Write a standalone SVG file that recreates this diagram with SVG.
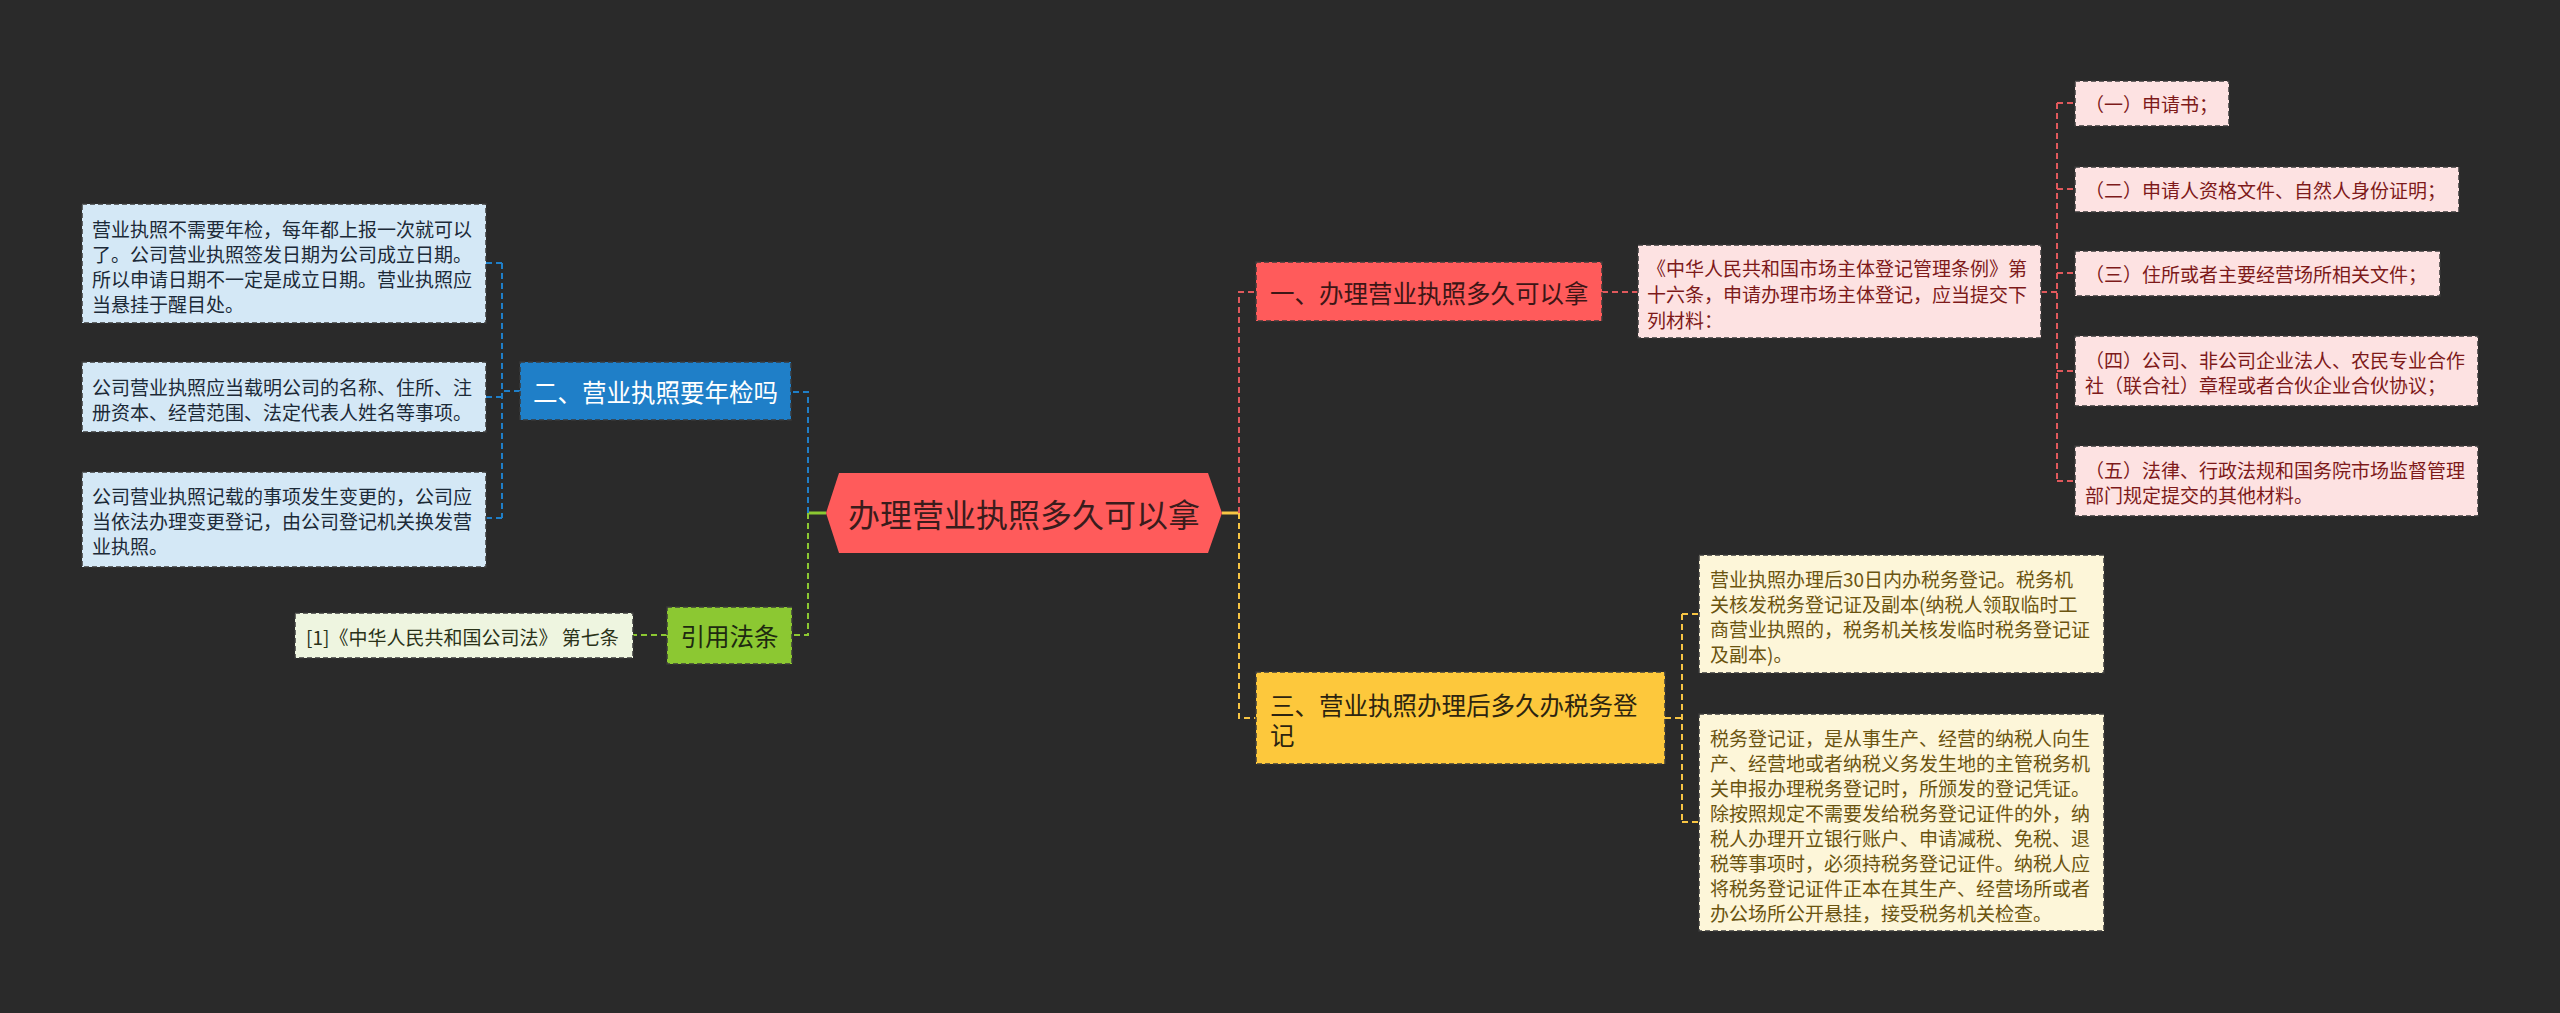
<svg xmlns="http://www.w3.org/2000/svg" width="2560" height="1013" viewBox="0 0 2560 1013">
<style>
text{font-family:"Noto Sans CJK SC","Noto Sans",sans-serif;dominant-baseline:central}
.box{stroke:#3a3a3a;stroke-width:1.5;stroke-dasharray:5 3}
.lead{stroke-dasharray:6 4}
.con{fill:none;stroke-width:2;stroke-dasharray:6 4}
.solid{fill:none;stroke-width:3}
.t19{font-size:19px}
.t24{font-size:24.5px}
</style>
<rect x="0" y="0" width="2560" height="1013" fill="#2a2a2a"/>
<g id="connectors">
  <path class="solid" d="M826 513H808" stroke="#8cc832"/>
  <path class="solid" d="M1222 513H1239" stroke="#f7c544"/>
  <path class="con" d="M808 513V392H791" stroke="#1f7fc8"/>
  <path class="con" d="M808 513V635H792" stroke="#8cc832"/>
  <path class="con" d="M1239 513V292H1256" stroke="#e0595c"/>
  <path class="con" d="M1239 513V718H1256" stroke="#f7c544"/>
  <path class="con" d="M520 391H502M502 263V518M502 263H486M502 397H486M502 518H486" stroke="#1f7fc8"/>
  <path class="con" d="M667 635H633" stroke="#8cc832"/>
  <path class="con" d="M1602 292H1638M2041 292H2057M2057 103V481M2057 103H2075M2057 189H2075M2057 273H2075M2057 371H2075M2057 481H2075" stroke="#e0595c"/>
  <path class="con" d="M1665 718H1682M1682 614V822M1682 614H1699M1682 822H1699" stroke="#f7c544"/>
</g>
<g id="root">
  <polygon points="826,513 839,473 1208,473 1222,513 1208,553 839,553" fill="#ff5b5b"/>
  <text x="1024" y="513" font-size="32" text-anchor="middle" fill="#3a1c1c">办理营业执照多久可以拿</text>
</g>
<g id="n1">
  <rect class="box" x="1256" y="262" width="346" height="59" fill="#ff5b5b" stroke="#a83a3a"/>
  <text class="t24" x="1270" y="292" fill="#3d1616">一、办理营业执照多久可以拿</text>
</g>
<g id="n1d">
  <rect class="box" x="1638" y="245" width="403" height="93" fill="#fde2e2"/>
  <text class="t19" fill="#7d1a1a"><tspan x="1647" y="267">《中华人民共和国市场主体登记管理条例》第</tspan><tspan x="1647" y="293">十六条，申请办理市场主体登记，应当提交下</tspan><tspan x="1647" y="319">列材料：</tspan></text>
</g>
<g id="n1a">
  <rect class="box" x="2075" y="81" width="154" height="45" fill="#fde2e2"/>
  <text class="t19" x="2085" y="103" fill="#7d1a1a">（一）申请书；</text>
</g>
<g id="n1b">
  <rect class="box" x="2075" y="167" width="384" height="45" fill="#fde2e2"/>
  <text class="t19" x="2085" y="189" fill="#7d1a1a">（二）申请人资格文件、自然人身份证明；</text>
</g>
<g id="n1c">
  <rect class="box" x="2075" y="251" width="365" height="45" fill="#fde2e2"/>
  <text class="t19" x="2085" y="273" fill="#7d1a1a">（三）住所或者主要经营场所相关文件；</text>
</g>
<g id="n1e">
  <rect class="box" x="2075" y="336" width="403" height="70" fill="#fde2e2"/>
  <text class="t19" fill="#7d1a1a"><tspan x="2085" y="359">（四）公司、非公司企业法人、农民专业合作</tspan><tspan x="2085" y="384">社（联合社）章程或者合伙企业合伙协议；</tspan></text>
</g>
<g id="n1f">
  <rect class="box" x="2075" y="446" width="403" height="70" fill="#fde2e2"/>
  <text class="t19" fill="#7d1a1a"><tspan x="2085" y="469">（五）法律、行政法规和国务院市场监督管理</tspan><tspan x="2085" y="494">部门规定提交的其他材料。</tspan></text>
</g>
<g id="n2">
  <rect class="box" x="520" y="362" width="271" height="58" fill="#1f7fc8" stroke="#135a90"/>
  <text class="t24" x="655.5" y="391" text-anchor="middle" fill="#ffffff">二、营业执照要年检吗</text>
</g>
<g id="n2a">
  <rect class="box" x="82" y="204" width="404" height="119" fill="#d4e8f6"/>
  <text class="t19" fill="#1c2a38"><tspan x="92" y="228">营业执照不需要年检，每年都上报一次就可以</tspan><tspan x="92" y="253">了。公司营业执照签发日期为公司成立日期。</tspan><tspan x="92" y="278">所以申请日期不一定是成立日期。营业执照应</tspan><tspan x="92" y="303">当悬挂于醒目处。</tspan></text>
</g>
<g id="n2b">
  <rect class="box" x="82" y="362" width="404" height="70" fill="#d4e8f6"/>
  <text class="t19" fill="#1c2a38"><tspan x="92" y="386">公司营业执照应当载明公司的名称、住所、注</tspan><tspan x="92" y="411">册资本、经营范围、法定代表人姓名等事项。</tspan></text>
</g>
<g id="n2c">
  <rect class="box" x="82" y="472" width="404" height="95" fill="#d4e8f6"/>
  <text class="t19" fill="#1c2a38"><tspan x="92" y="495">公司营业执照记载的事项发生变更的，公司应</tspan><tspan x="92" y="520">当依法办理变更登记，由公司登记机关换发营</tspan><tspan x="92" y="545">业执照。</tspan></text>
</g>
<g id="n4">
  <rect class="box" x="667" y="607" width="125" height="57" fill="#8cc832" stroke="#5a8a1e"/>
  <text class="t24" x="729.5" y="635" text-anchor="middle" fill="#1e2a10">引用法条</text>
</g>
<g id="n4a">
  <rect class="box" x="295" y="613" width="338" height="45" fill="#eef5e0"/>
  <text class="t19" x="306" y="636" fill="#2a3218" xml:space="preserve">[1]《中华人民共和国公司法》 第七条</text>
</g>
<g id="n3">
  <rect class="box" x="1256" y="672" width="409" height="92" fill="#fdc83c" stroke="#a88520"/>
  <text class="t24" fill="#2c2410"><tspan x="1270" y="704">三、营业执照办理后多久办税务登</tspan><tspan x="1270" y="734">记</tspan></text>
</g>
<g id="n3a">
  <rect class="box" x="1699" y="555" width="405" height="118" fill="#fdf6d9"/>
  <text class="t19" fill="#6b5410"><tspan x="1710" y="578">营业执照办理后30日内办税务登记。税务机</tspan><tspan x="1710" y="603">关核发税务登记证及副本(纳税人领取临时工</tspan><tspan x="1710" y="628">商营业执照的，税务机关核发临时税务登记证</tspan><tspan x="1710" y="653">及副本)。</tspan></text>
</g>
<g id="n3b">
  <rect class="box" x="1699" y="714" width="405" height="217" fill="#fdf6d9"/>
  <text class="t19" fill="#6b5410"><tspan x="1710" y="737">税务登记证，是从事生产、经营的纳税人向生</tspan><tspan x="1710" y="762">产、经营地或者纳税义务发生地的主管税务机</tspan><tspan x="1710" y="787">关申报办理税务登记时，所颁发的登记凭证。</tspan><tspan x="1710" y="812">除按照规定不需要发给税务登记证件的外，纳</tspan><tspan x="1710" y="837">税人办理开立银行账户、申请减税、免税、退</tspan><tspan x="1710" y="862">税等事项时，必须持税务登记证件。纳税人应</tspan><tspan x="1710" y="887">将税务登记证件正本在其生产、经营场所或者</tspan><tspan x="1710" y="912">办公场所公开悬挂，接受税务机关检查。</tspan></text>
</g>
</svg>
